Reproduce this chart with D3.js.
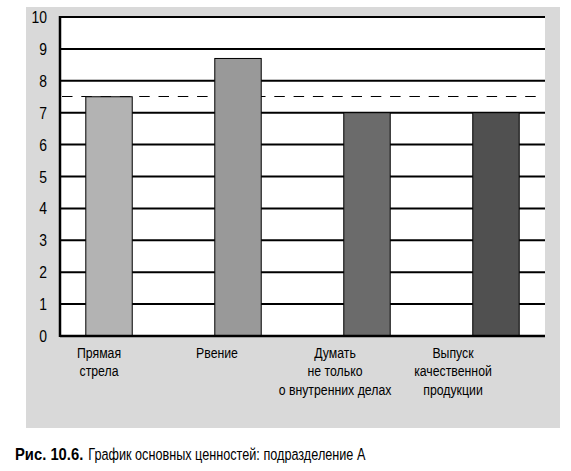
<!DOCTYPE html>
<html lang="ru">
<head>
  <meta charset="utf-8">
  <script src="https://d3js.org/d3.v7.min.js"></script>
  <style>
    body { margin: 0; background: #fff; }
    text { font-family: "Liberation Sans", Arial, sans-serif; fill: #000; }
  </style>
</head>
<body>
  <div id="chart"></div>
  <script>
  const width = 571
  const height = 471
  const narrow = 0.82 // squeeze Liberation Sans to look like a narrow face

  // data
  const categories = ["Прямая стрела", "Рвение", "Думать не только о внутренних делах", "Выпуск качественной продукции"]
  const labelLines = [["Прямая", "стрела"], ["Рвение"], ["Думать", "не только", "о внутренних делах"], ["Выпуск", "качественной", "продукции"]]
  const values = [7.5, 8.7, 7.0, 7.0]
  const barColors = ["#b3b3b3", "#999999", "#6b6b6b", "#505050"]
  const average = 7.5
  const yTicks = [0, 1, 2, 3, 4, 5, 6, 7, 8, 9, 10]
  const caption = ["Рис. 10.6.", "График основных ценностей: подразделение А"]

  const plot = {left: 60, right: 545, top: 17, bottom: 336}

  const svg = d3.select("#chart").append("svg")
    .attr("width", width)
    .attr("height", height)

  // gray panel
  svg.append("rect")
    .attr("x", 26).attr("y", 7)
    .attr("width", 534).attr("height", 421)
    .attr("fill", "#d9d9d9")

  svg.append("rect")
    .attr("x", plot.left).attr("y", plot.top)
    .attr("width", plot.right - plot.left).attr("height", plot.bottom - plot.top)
    .attr("fill", "#fff")

  const x = d3.scaleBand()
    .domain(categories)
    .range([plot.left, plot.right])
    .paddingInner(0.64)
    .paddingOuter(0.2)

  // labels sit a little left of the bars in the original
  const xLabel = d3.scaleBand()
    .domain(categories)
    .range([40, 512])

  const y = d3.scaleLinear()
    .domain([0, 10])
    .range([plot.bottom, plot.top])

  // gridlines
  svg.append("g").selectAll("line")
    .data(yTicks.filter(d => d > 0))
    .join("line")
    .attr("x1", plot.left).attr("x2", plot.right)
    .attr("y1", d => y(d)).attr("y2", d => y(d))
    .attr("stroke", "#000")
    .attr("stroke-width", 2)

  // dashed average line
  const ya = Math.round(y(average)) - 0.5
  svg.append("line")
    .attr("x1", plot.left + 2).attr("x2", 538)
    .attr("y1", ya).attr("y2", ya)
    .attr("stroke", "#000")
    .attr("stroke-width", 1.2)
    .attr("stroke-dasharray", "10.5,8.8")

  // bars
  svg.append("g").selectAll("rect")
    .data(values)
    .join("rect")
    .attr("x", (d, i) => x(categories[i]))
    .attr("y", d => y(d))
    .attr("width", x.bandwidth())
    .attr("height", d => y(0) - y(d))
    .attr("fill", (d, i) => barColors[i])
    .attr("stroke", "#000")
    .attr("stroke-width", 1)

  // axes lines
  svg.append("line")
    .attr("x1", plot.left).attr("x2", plot.left)
    .attr("y1", plot.top - 1).attr("y2", plot.bottom + 1)
    .attr("stroke", "#000").attr("stroke-width", 2.5)
  svg.append("line")
    .attr("x1", plot.left).attr("x2", plot.right)
    .attr("y1", y(0)).attr("y2", y(0))
    .attr("stroke", "#000").attr("stroke-width", 2.5)

  // y tick labels
  svg.append("g").selectAll("text")
    .data(yTicks)
    .join("text")
    .attr("transform", d => `translate(47,${y(d) + 6}) scale(${narrow},1)`)
    .attr("text-anchor", "end")
    .attr("font-size", 17)
    .text(d => d)

  // category labels
  const lab = svg.append("g").selectAll("text")
    .data(categories)
    .join("text")
    .attr("text-anchor", "middle")
    .attr("font-size", 15)
    .attr("transform", d => `translate(${xLabel(d) + xLabel.bandwidth() / 2},358) scale(${narrow},1)`)

  lab.selectAll("tspan")
    .data((d, i) => labelLines[i])
    .join("tspan")
    .attr("x", 0)
    .attr("dy", (d, i) => i === 0 ? 0 : 18.3)
    .text(d => d)

  // caption: bold figure number, then the narrower title
  const capBold = svg.append("text")
    .attr("transform", "translate(15,460) scale(0.87,1)")
    .attr("font-size", 17)
    .attr("font-weight", "bold")
    .text(caption[0])
  const boldW = capBold.node().getComputedTextLength() * 0.87
  svg.append("text")
    .attr("transform", `translate(${15 + boldW + 5},460) scale(0.745,1)`)
    .attr("font-size", 17)
    .text(caption[1])
  </script>
</body>
</html>
